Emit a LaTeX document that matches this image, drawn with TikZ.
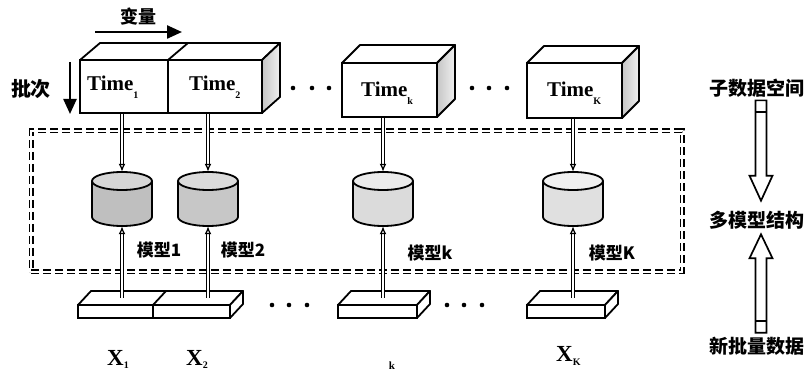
\documentclass[tikz,border=0pt]{standalone}
\usepackage{fontspec}
\setmainfont{Liberation Serif}
\newfontfamily\cjk{Noto Sans CJK SC}
\usetikzlibrary{arrows.meta,calc}
% small lowered index after a label
\newcommand\lowsub[2]{\raisebox{#1}{\fontsize{10}{10}\selectfont #2}}
% a drum (cylinder) centred at x = #1, body colour #2, lid colour #3
\newcommand\drumshape[3]{%
  \fill[#2] (#1-30,181) -- (#1-30,217) arc[start angle=180,end angle=0,x radius=30,y radius=9]
     -- (#1+30,181) arc[start angle=0,end angle=-180,x radius=30,y radius=9] -- cycle;
  \draw[outline] (#1-30,181) -- (#1-30,217) arc[start angle=180,end angle=0,x radius=30,y radius=9] -- (#1+30,181);
  \draw[outline,fill=#3] (#1,181) ellipse[x radius=30,y radius=9];
}
\begin{document}
\begin{tikzpicture}[x=1pt,y=-1pt,
  outline/.style={line width=1.8pt, line join=round},
  face/.style={outline, fill=white},
  sideface/.style={outline, left color=gray!45, right color=gray!12},
  facefront/.style={draw, line width=1.8pt, fill=white, inner sep=0pt},
  tlabel/.style={font=\fontsize{21}{21}\selectfont\bfseries, inner sep=0pt},
  cnlabel/.style={font=\cjk\fontsize{17}{17}\selectfont\bfseries, inner sep=0pt},
  sidelabel/.style={font=\cjk\fontsize{19}{19}\selectfont\bfseries, inner sep=0pt},
  xname/.style={font=\fontsize{23}{23}\selectfont\bfseries, inner sep=0pt},
  drumnode/.style={inner sep=0pt, minimum width=60pt, minimum height=54pt},
  link/.style={double, double distance=1.8pt, line width=1.3pt, -{Latex[open,length=8pt,width=7pt]}},
  groupframe/.style={draw, dash pattern=on 8pt off 4pt, double, double distance=2.2pt, line width=1.4pt, inner sep=0pt},
  hollow/.style={draw, line width=1.7pt, line join=miter, fill=white},
  dirarrow/.style={line width=2.4pt, -{Triangle[length=15pt,width=13pt]}},
]
\useasboundingbox (0,0) rectangle (812,374);
\fill[white] (0,0) rectangle (812,374);

% dashed frame round the model layer
\node[groupframe, minimum width=651pt, minimum height=141pt] (group) at (356.5,201.5) {};

% ---- time blocks: tops and sides
\draw[face] (80,60) -- (100,43) -- (280,43) -- (262,60) -- cycle;
\draw[outline] (168,60) -- (188,43);
\draw[sideface] (262,60) -- (280,43) -- (280,97) -- (262,113) -- cycle;
\draw[face] (342,63) -- (360,45) -- (455,45) -- (437,63) -- cycle;
\draw[sideface] (437,63) -- (455,45) -- (455,99) -- (437,117) -- cycle;
\draw[face] (527,63) -- (544,46) -- (639,46) -- (622,63) -- cycle;
\draw[sideface] (622,63) -- (639,46) -- (639,101) -- (622,118) -- cycle;
% fronts
\node[facefront, minimum width=88pt, minimum height=53pt] (t1) at (124,86.5) {};
\node[facefront, minimum width=94pt, minimum height=53pt] (t2) at (215,86.5) {};
\node[facefront, minimum width=95pt, minimum height=54pt] (tk) at (389.5,90) {};
\node[facefront, minimum width=95pt, minimum height=55pt] (tK) at (574.5,90.5) {};
\node[tlabel, anchor=base west] (t1l) at (87,91) {Time\lowsub{-8pt}{1}};
\node[tlabel, anchor=base west] (t2l) at (189,91) {Time\lowsub{-8pt}{2}};
\node[tlabel, anchor=base west] (tkl) at (361,97) {Time\lowsub{-8pt}{k}};
\node[tlabel, anchor=base west] (tKl) at (547,97) {Time\lowsub{-8pt}{K}};

% dots between blocks
\foreach \x in {293,312,329,472,489,507} \fill (\x,88) circle (2.3);
\foreach \x in {272,289,307,447,464,482} \fill (\x,305) circle (2.3);

% direction marks
\node[cnlabel, font=\cjk\fontsize{18}{18}\selectfont\bfseries] (vary) at (138,17) {变量};
\coordinate (va) at (95,32);
\coordinate (vb) at (182,32);
\draw[dirarrow] (va) -- (vb);
\node[cnlabel, font=\cjk\fontsize{20}{20}\selectfont\bfseries] (batch) at (31,89) {批次};
\coordinate (ba) at (70,62);
\coordinate (bb) at (70,114);
\draw[dirarrow] (ba) -- (bb);

% ---- model drums
\drumshape{122}{gray!50}{gray!32}
\drumshape{208}{gray!44}{gray!28}
\drumshape{383}{gray!28}{gray!16}
\drumshape{573}{gray!24}{gray!12}
\node[drumnode] (c1) at (122,199) {};
\node[drumnode] (c2) at (208,199) {};
\node[drumnode] (ck) at (383,199) {};
\node[drumnode] (cK) at (573,199) {};
\node[cnlabel] (m1) at (159,250) {模型1};
\node[cnlabel] (m2) at (243,250) {模型2};
\node[cnlabel] (mk) at (430,253) {模型k};
\node[cnlabel] (mK) at (612,253) {模型K};

% ---- batch slabs
\draw[face] (78,305) -- (91,291) -- (243,291) -- (230,305) -- cycle;
\draw[outline] (153,305) -- (166,291);
\draw[face] (230,305) -- (243,291) -- (243,304) -- (230,318) -- cycle;
\draw[face] (338,305) -- (351,291) -- (430,291) -- (417,305) -- cycle;
\draw[face] (417,305) -- (430,291) -- (430,304) -- (417,318) -- cycle;
\draw[face] (527,305) -- (540,291) -- (618,291) -- (605,305) -- cycle;
\draw[face] (605,305) -- (618,291) -- (618,304) -- (605,318) -- cycle;
\node[facefront, minimum width=75pt, minimum height=13pt] (s1) at (115.5,311.5) {};
\node[facefront, minimum width=77pt, minimum height=13pt] (s2) at (191.5,311.5) {};
\node[facefront, minimum width=79pt, minimum height=13pt] (sk) at (377.5,311.5) {};
\node[facefront, minimum width=78pt, minimum height=13pt] (sK) at (566,311.5) {};
\coordinate (b1) at (122,298);
\coordinate (b2) at (208,298);
\coordinate (bk) at (383,298);
\coordinate (bK) at (573,298);

% ---- connectors
\draw[link] (c1.north |- t1.south) -- (c1.north);
\draw[link] (c2.north |- t2.south) -- (c2.north);
\draw[link] (ck.north |- tk.south) -- (ck.north);
\draw[link] (cK.north |- tK.south) -- (cK.north);
\draw[link] (b1) -- (c1.south);
\draw[link] (b2) -- (c2.south);
\draw[link] (bk) -- (ck.south);
\draw[link] (bK) -- (cK.south);

% ---- batch names
\node[xname, anchor=base west] (x1) at (107,366) {X\lowsub{-2pt}{1}};
\node[xname, anchor=base west] (x2) at (186,366) {X\lowsub{-2pt}{2}};
\node[inner sep=0pt, font=\fontsize{11}{11}\selectfont\bfseries] (xk) at (392,366) {k};
\node[xname, anchor=base west] (xK) at (556,362) {X\lowsub{-3pt}{K}};

% ---- right-hand legend
\node[sidelabel] (sub) at (757,88) {子数据空间};
\node[sidelabel] (multi) at (757,220) {多模型结构};
\node[sidelabel] (newb) at (757,346) {新批量数据};
\coordinate (dtop) at ($(sub.south)+(4,3)$);
\coordinate (dtip) at ($(multi.north)+(4,-10)$);
\draw[hollow] ($(dtop)+(-5.5,0)$) -- ($(dtip)+(-5.5,-25)$) -- ($(dtip)+(-11.5,-25)$) -- (dtip)
  -- ($(dtip)+(11.5,-25)$) -- ($(dtip)+(5.5,-25)$) -- ($(dtop)+(5.5,0)$) -- cycle;
\draw[outline] ($(dtop)+(-5.5,12)$) -- ($(dtop)+(5.5,12)$);
\coordinate (ubot) at ($(newb.north)+(4,-4)$);
\coordinate (utip) at ($(multi.south)+(4,5)$);
\draw[hollow] ($(ubot)+(-5.5,0)$) -- ($(utip)+(-5.5,24)$) -- ($(utip)+(-11.5,24)$) -- (utip)
  -- ($(utip)+(11.5,24)$) -- ($(utip)+(5.5,24)$) -- ($(ubot)+(5.5,0)$) -- cycle;
\draw[outline] ($(ubot)+(-5.5,-12)$) -- ($(ubot)+(5.5,-12)$);
\end{tikzpicture}
\end{document}
